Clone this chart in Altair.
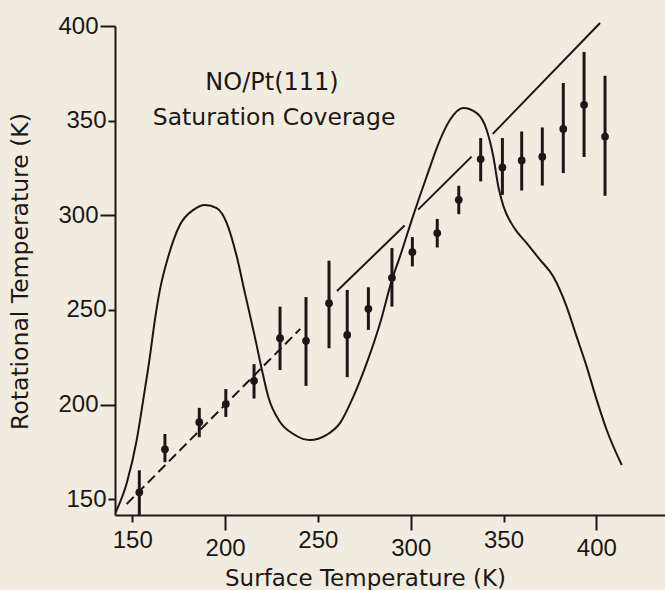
import altair as alt
import pandas as pd

# ---- data ----
pt_x = [153.8, 167.6, 186.1, 200.4, 215.6, 229.6, 243.6, 256.0, 265.8, 277.2, 289.9,
        300.9, 314.3, 325.9, 337.7, 349.4, 359.8, 370.9, 382.2, 393.4, 404.7]
pt_y = [153.7, 176.4, 190.7, 200.3, 212.6, 235.1, 233.7, 253.6, 236.8, 250.6, 267.0,
        280.5, 290.6, 308.2, 329.7, 325.3, 329.0, 331.0, 345.6, 358.4, 341.6]
err_hi = [165.3, 184.5, 198.3, 208.2, 221.4, 251.8, 256.8, 276.0, 260.6, 262.0, 282.7,
          288.5, 298.1, 315.6, 340.8, 340.8, 344.3, 346.4, 369.9, 386.3, 373.7]
err_lo = [141.0, 169.6, 182.8, 193.5, 203.2, 218.3, 209.9, 229.8, 214.5, 239.5, 251.8,
          273.0, 283.0, 300.6, 317.9, 310.8, 313.1, 315.7, 322.3, 330.8, 310.3]

curve_x = [140.5, 147.0, 152.4, 155.9, 159.5, 162.2, 164.9, 169.4, 175.7, 182.9, 189.2,
           195.5, 200.9, 206.3, 210.7, 216.0, 219.7, 223.3, 229.5, 236.8, 245.7, 254.7,
           261.9, 269.1, 276.3, 283.5, 289.9, 294.2, 301.4, 308.6, 315.8, 321.2, 328.3,
           335.6, 340.9, 344.5, 347.2, 349.9, 355.3, 362.5, 369.7, 376.8, 384.0, 389.4,
           394.8, 400.2, 405.6, 413.7]
curve_y = [142.0, 158.5, 181.3, 202.5, 225.4, 244.8, 260.6, 278.2, 295.0, 302.9, 305.5,
           303.8, 295.9, 278.2, 258.9, 236.0, 219.0, 204.0, 191.0, 184.5, 181.3, 184.0,
           190.2, 204.2, 221.9, 243.0, 265.9, 278.2, 300.0, 320.5, 339.9, 350.5, 356.7,
           354.0, 345.2, 331.1, 315.2, 305.0, 294.1, 285.3, 276.5, 267.7, 251.8, 235.9,
           220.1, 202.5, 186.6, 168.1]

# y = x reference line pieces (start x, start y, end x, end y)
dash_seg = [(147.0, 147.5, 240.5, 240.0)]
solid_segs = [(260.3, 260.0, 296.7, 294.6),
              (304.0, 303.0, 332.8, 331.0),
              (344.2, 343.0, 402.0, 401.6)]

labels = ["NO/Pt(111)", "Saturation Coverage"]
label_x = [225.3, 226.4]
label_y = [366.3, 347.8]
label_size = [24, 23.5]

x_ticks = [150, 200, 250, 300, 350, 400]
y_ticks = [150, 200, 250, 300, 350, 400]

INK = "#1c1714"
BG = "#f0ede0"

pts = pd.DataFrame({"x": pt_x, "y": pt_y, "hi": err_hi, "lo": err_lo})
curve = pd.DataFrame({"x": curve_x, "y": curve_y, "order": list(range(len(curve_x)))})


def seg_df(segs):
    rows = []
    for i, (x0, y0, x1, y1) in enumerate(segs):
        rows.append({"seg": i, "x": x0, "y": y0, "o": 0})
        rows.append({"seg": i, "x": x1, "y": y1, "o": 1})
    return pd.DataFrame(rows)


dash_df = seg_df(dash_seg)
solid_df = seg_df(solid_segs)
text_df = pd.DataFrame({"t": labels, "x": label_x, "y": label_y, "s": label_size})

xs = alt.Scale(domain=[140.7, 437.0], nice=False, zero=False)
ys = alt.Scale(domain=[141.7, 400.0], nice=False, zero=False)

tick_cond = {"condition": {"test": "datum.value % 100 === 0", "value": 15}, "value": 7}

x_axis = alt.Axis(values=x_ticks, title="Surface Temperature (K)", grid=False,
                  tickSize=tick_cond, tickWidth=2, tickColor=INK,
                  domainColor=INK, domainWidth=2,
                  labelFont="Liberation Sans", labelFontSize=24, labelColor=INK,
                  labelPadding=6, labelFlush=False,
                  titleFont="DejaVu Sans", titleFontSize=23, titleFontWeight="normal",
                  titleColor=INK, titleX=250, titleY=70, titleAlign="center",
                  titleBaseline="alphabetic")
y_axis = alt.Axis(values=y_ticks, title="Rotational Temperature (K)", grid=False,
                  tickSize=tick_cond, tickWidth=2, tickColor=INK,
                  domainColor=INK, domainWidth=2,
                  labelFont="Liberation Sans", labelFontSize=24, labelColor=INK,
                  labelPadding=2, labelFlush=False,
                  titleFont="DejaVu Sans", titleFontSize=23.5, titleFontWeight="normal",
                  titleColor=INK, titleX=-95, titleY=245, titleAngle=270,
                  titleAlign="center", titleBaseline="middle")

base_x = alt.X("x:Q", scale=xs, axis=x_axis)
base_y = alt.Y("y:Q", scale=ys, axis=y_axis)

curve_layer = alt.Chart(curve).mark_line(color=INK, strokeWidth=2, interpolate="monotone",
                                         clip=True).encode(
    x=base_x, y=base_y, order="order:Q")

dash_layer = alt.Chart(dash_df).mark_line(color=INK, strokeWidth=2, strokeDash=[10, 5]).encode(
    x=alt.X("x:Q", scale=xs), y=alt.Y("y:Q", scale=ys), detail="seg:N", order="o:Q")

solid_layer = alt.Chart(solid_df).mark_line(color=INK, strokeWidth=2).encode(
    x=alt.X("x:Q", scale=xs), y=alt.Y("y:Q", scale=ys), detail="seg:N", order="o:Q")

err_layer = alt.Chart(pts).mark_rule(color=INK, strokeWidth=3, clip=True).encode(
    x=alt.X("x:Q", scale=xs), y=alt.Y("lo:Q", scale=ys), y2="hi:Q")

pt_layer = alt.Chart(pts).mark_circle(color=INK, opacity=1, size=60).encode(
    x=alt.X("x:Q", scale=xs), y=alt.Y("y:Q", scale=ys))

text_layer = alt.Chart(text_df).mark_text(color=INK, font="DejaVu Sans", align="center",
                                          baseline="alphabetic").encode(
    x=alt.X("x:Q", scale=xs), y=alt.Y("y:Q", scale=ys), text="t:N",
    size=alt.Size("s:Q", scale=None, legend=None))

chart = alt.layer(curve_layer, dash_layer, solid_layer, err_layer, pt_layer, text_layer).properties(
    width=550, height=489,
    autosize=alt.AutoSizeParams(type="none"),
    padding={"left": 115, "top": 26, "right": 0, "bottom": 75},
    background=BG,
).configure_view(stroke=None)

chart.save("out.html", embed_options={"renderer": "svg", "actions": False})
